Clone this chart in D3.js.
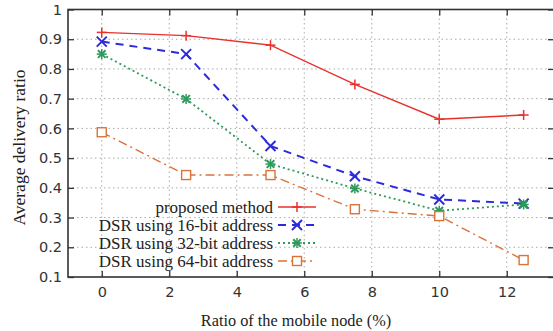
<!DOCTYPE html>
<html><head><meta charset="utf-8">
<script src="https://cdn.jsdelivr.net/npm/d3@7"></script>
<style>body{margin:0;background:#fff;}svg{display:block;}</style>
</head><body>
<svg id="c" width="553" height="331"></svg>
<script>
const xValues = [0, 2.5, 5, 7.5, 10, 12.5];
const proposed = [0.923, 0.912, 0.880, 0.748, 0.631, 0.645];
const dsr16 = [0.892, 0.850, 0.541, 0.439, 0.361, 0.347];
const dsr32 = [0.850, 0.699, 0.480, 0.398, 0.323, 0.344];
const dsr64 = [0.587, 0.443, 0.443, 0.328, 0.305, 0.157];
const seriesNames = ["proposed method", "DSR using 16-bit address", "DSR using 32-bit address", "DSR using 64-bit address"];
const xTicks = [0, 2, 4, 6, 8, 10, 12];
const yTicks = [0.1, 0.2, 0.3, 0.4, 0.5, 0.6, 0.7, 0.8, 0.9, 1];
const xTitle = "Ratio of the mobile node (%)";
const yTitle = "Average delivery ratio";

const svg = d3.select("#c");
const L = 68, R = 554, T = 9.5, B = 277;
const x = d3.scaleLinear().domain([-1, 13.4]).range([L, R]);
const y = d3.scaleLinear().domain([0.1, 1]).range([B, T]);

// grid
const g = svg.append("g");
g.selectAll(".gy").data(yTicks.slice(1, -1)).join("line")
  .attr("x1", L).attr("x2", R).attr("y1", d => y(d)).attr("y2", d => y(d))
  .attr("stroke", "#aaa").attr("stroke-width", 1).attr("stroke-dasharray", "1.5,3");
g.selectAll(".gx").data(xTicks).join("line")
  .attr("x1", d => x(d)).attr("x2", d => x(d)).attr("y1", T).attr("y2", B)
  .attr("stroke", "#aaa").attr("stroke-width", 1).attr("stroke-dasharray", "1.5,3");

// axes
const tickFont = "'DejaVu Sans', sans-serif";
const ax = svg.append("g").attr("transform", `translate(0,${B})`)
  .call(d3.axisBottom(x).tickValues(xTicks).tickSize(-6).tickPadding(10).tickFormat(d3.format("d")));
const ay = svg.append("g").attr("transform", `translate(${L},0)`)
  .call(d3.axisLeft(y).tickValues(yTicks).tickSize(-6).tickPadding(6).tickFormat(d => d === 1 ? "1" : d3.format(".1f")(d)));
const axT = svg.append("g").attr("transform", `translate(0,${T})`)
  .call(d3.axisTop(x).tickValues(xTicks).tickSize(-6).tickFormat(""));
const ayR = svg.append("g").attr("transform", `translate(${R},0)`)
  .call(d3.axisRight(y).tickValues(yTicks).tickSize(-6).tickFormat(""));
[ax, ay, axT, ayR].forEach(a => {
  a.select(".domain").remove();
  a.selectAll(".tick line").attr("stroke", "#333").attr("stroke-width", 1.3);
  a.selectAll(".tick text").attr("font-family", tickFont).attr("font-size", 14.5).attr("fill", "#333");
});
svg.append("rect").attr("x", L).attr("y", T).attr("width", R - L).attr("height", B - T)
  .attr("fill", "none").attr("stroke", "#333").attr("stroke-width", 1.6);

// series
const styles = [
  {data: proposed, color: "#e8302c", dash: null, w: 1.4, marker: "plus"},
  {data: dsr16, color: "#2b2bdc", dash: "8,6", w: 2, marker: "cross"},
  {data: dsr32, color: "#2e9a5c", dash: "2,3", w: 1.8, marker: "star"},
  {data: dsr64, color: "#d9733a", dash: "9,4,2,4", w: 1.4, marker: "square"}
];
function drawMarker(sel, type, cx, cy, color) {
  const s = 5;
  if (type === "plus" || type === "star") {
    sel.append("line").attr("x1", cx - s).attr("x2", cx + s).attr("y1", cy).attr("y2", cy).attr("stroke", color).attr("stroke-width", 1.5);
    sel.append("line").attr("x1", cx).attr("x2", cx).attr("y1", cy - s).attr("y2", cy + s).attr("stroke", color).attr("stroke-width", 1.5);
  }
  if (type === "cross" || type === "star") {
    const k = type === "star" ? 3.8 : 5;
    sel.append("line").attr("x1", cx - k).attr("x2", cx + k).attr("y1", cy - k).attr("y2", cy + k).attr("stroke", color).attr("stroke-width", 2);
    sel.append("line").attr("x1", cx - k).attr("x2", cx + k).attr("y1", cy + k).attr("y2", cy - k).attr("stroke", color).attr("stroke-width", 2);
  }
  if (type === "square") {
    sel.append("rect").attr("x", cx - 4.5).attr("y", cy - 4.5).attr("width", 9).attr("height", 9)
      .attr("fill", "#fff").attr("stroke", color).attr("stroke-width", 1.4);
  }
}
const line = d3.line().x((d, i) => x(xValues[i])).y(d => y(d));
styles.forEach(st => {
  svg.append("path").attr("d", line(st.data)).attr("fill", "none")
    .attr("stroke", st.color).attr("stroke-width", st.w).attr("stroke-dasharray", st.dash);
});
styles.forEach(st => {
  const mg = svg.append("g");
  st.data.forEach((v, i) => drawMarker(mg, st.marker, x(xValues[i]), y(v), st.color));
});

// legend
const serif = "'Liberation Serif', 'Times New Roman', serif";
const lg = svg.append("g");
seriesNames.forEach((n, i) => {
  const ly = 207 + i * 18;
  const st = styles[i];
  lg.append("text").attr("x", 273).attr("y", ly).attr("dy", "0.35em").attr("text-anchor", "end")
    .attr("font-family", serif).attr("font-size", 17).attr("fill", "#222").text(n);
  lg.append("line").attr("x1", 278).attr("x2", 316).attr("y1", ly).attr("y2", ly)
    .attr("stroke", st.color).attr("stroke-width", st.w).attr("stroke-dasharray", st.dash);
  drawMarker(lg, st.marker, 297, ly, st.color);
});

// titles
svg.append("text").attr("x", 296).attr("y", 326).attr("text-anchor", "middle")
  .attr("font-family", serif).attr("font-size", 16.3).attr("fill", "#222").text(xTitle);
svg.append("text").attr("transform", `translate(25,147.5) rotate(-90)`).attr("text-anchor", "middle")
  .attr("font-family", serif).attr("font-size", 17.5).attr("fill", "#222").text(yTitle);
</script>
</body></html>
